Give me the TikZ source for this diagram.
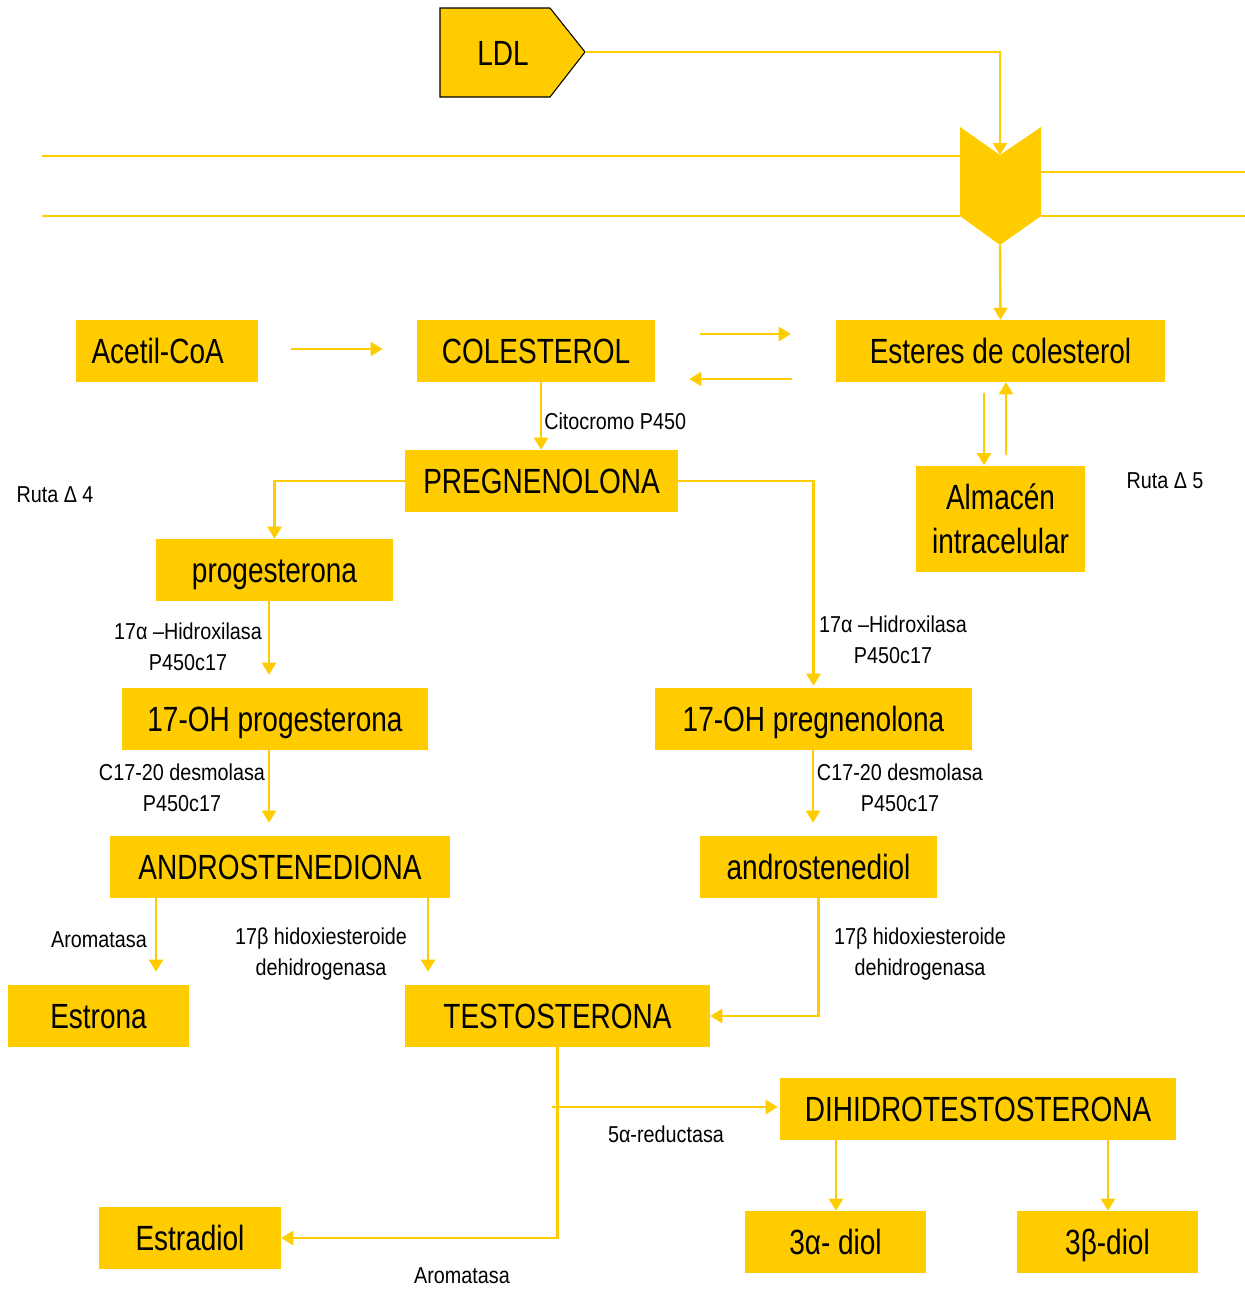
\documentclass[tikz,border=0pt]{standalone}
\usepackage{fontspec}
\setmainfont{Liberation Sans}[FakeStretch=0.8]
\newfontfamily\labfont{Liberation Sans}[FakeStretch=0.86]
\usetikzlibrary{arrows.meta}
\definecolor{boxy}{HTML}{FFCC00}
\tikzset{
  boxbase/.style={fill=boxy, inner sep=0pt, align=center, font=\fontsize{26.25}{33}\selectfont, text=black},
  box/.style={boxbase, text height=18.8pt, text depth=0pt},
  lab/.style={inner sep=0pt, align=center, font=\labfont\fontsize{17.25}{23.25}\selectfont, text=black},
  conn/.style={draw=boxy, line width=1.8pt},
  arr/.style={conn, -{Triangle[length=9pt,width=10.5pt]}},
  memb/.style={draw=boxy, line width=1.3pt},
}
\begin{document}
\begin{tikzpicture}[x=0.75pt,y=-0.75pt]
\useasboundingbox (0,0) rectangle (1245,1289);
% LDL pentagon
\filldraw[fill=boxy, draw=black, line width=0.8pt] (440,8) -- (550,8) -- (585,52) -- (550,97) -- (440,97) -- cycle;
\node[box, fill=none] (ldl) at (503,53) {LDL};
\coordinate (ldltip) at (585,52);
% membrane
\draw[memb] (42,156) -- (960,156);
\draw[memb] (42,216) -- (960,216);
\draw[memb] (1041,172) -- (1245,172);
\draw[memb] (1041,216) -- (1245,216);
\fill[boxy] (960,127) -- (1000,155) -- (1041,127) -- (1041,216) -- (1000,245) -- (960,216) -- cycle;
\coordinate (chevtop) at (1000,155);
\coordinate (chevbot) at (1000,245);
% boxes
\node[box, minimum width=182*0.75pt, minimum height=62*0.75pt] (acetil) at (167,351) {Acetil-CoA\hspace*{14pt}};
\node[box, minimum width=238*0.75pt, minimum height=62*0.75pt] (col) at (536,351) {COLESTEROL};
\node[box, minimum width=329*0.75pt, minimum height=62*0.75pt] (est) at (1000.5,351) {Esteres de colesterol};
\node[box, minimum width=273*0.75pt, minimum height=62*0.75pt] (preg) at (541.5,481) {PREGNENOLONA};
\node[boxbase, minimum width=169*0.75pt, minimum height=106*0.75pt] (alm) at (1000.5,518.5) {Almacén\\intracelular};
\node[box, minimum width=237*0.75pt, minimum height=62*0.75pt] (prog) at (274.5,570) {progesterona};
\node[box, minimum width=306*0.75pt, minimum height=62*0.75pt] (ohprog) at (275,719) {17-OH progesterona};
\node[box, minimum width=340*0.75pt, minimum height=62*0.75pt] (andro) at (280,867) {ANDROSTENEDIONA};
\node[box, minimum width=181*0.75pt, minimum height=62*0.75pt] (estrona) at (98.5,1016) {Estrona};
\node[box, minimum width=305*0.75pt, minimum height=62*0.75pt] (testo) at (557.5,1016) {TESTOSTERONA};
\node[box, minimum width=317*0.75pt, minimum height=62*0.75pt] (ohpreg) at (813.5,719) {17-OH pregnenolona};
\node[box, minimum width=237*0.75pt, minimum height=62*0.75pt] (adiol) at (818.5,867) {androstenediol};
\node[box, minimum width=396*0.75pt, minimum height=62*0.75pt] (dht) at (978,1109) {DIHIDROTESTOSTERONA};
\node[box, minimum width=181*0.75pt, minimum height=62*0.75pt] (ad3) at (835.5,1242) {3α- diol};
\node[box, minimum width=181*0.75pt, minimum height=62*0.75pt] (bd3) at (1107.5,1242) {3β-diol};
\node[box, minimum width=182*0.75pt, minimum height=62*0.75pt] (estradiol) at (190,1238) {Estradiol};
% labels
\node[lab, anchor=west] (lcito) at (544,421) {Citocromo P450};
\node[lab] (r4) at (55,495) {Ruta Δ 4};
\node[lab] (r5) at (1165,481) {Ruta Δ 5};
\node[lab] (lhid1) at (188,647) {17α –Hidroxilasa\\P450c17};
\node[lab] (ldes1) at (182,788) {C17-20 desmolasa\\P450c17};
\node[lab] (laro1) at (99,940) {Aromatasa};
\node[lab] (lhsd1) at (321,954) {17β hidoxiesteroide\\dehidrogenasa};
\node[lab] (lhid2) at (893,640) {17α –Hidroxilasa\\P450c17};
\node[lab] (ldes2) at (900,788) {C17-20 desmolasa\\P450c17};
\node[lab] (lhsd2) at (920,954) {17β hidoxiesteroide\\dehidrogenasa};
\node[lab] (lred) at (666,1134) {5α-reductasa};
\node[lab] (laro2) at (462,1276) {Aromatasa};
% connectors
\draw[arr] (ldltip) -| (chevtop);
\draw[arr] (chevbot) -- (est.north);
\draw[arr, shorten <=33*0.75pt, shorten >=34*0.75pt] (acetil.east |- 0,349) -- (col.west |- 0,349);
\draw[arr, shorten <=45*0.75pt, shorten >=45*0.75pt] (col.east |- 0,334) -- (est.west |- 0,334);
\draw[arr, shorten <=44*0.75pt, shorten >=34*0.75pt] (est.west |- 0,379) -- (col.east |- 0,379);
\draw[arr] (col.south -| 541,0) -- (preg.north -| 541,0);
\draw[arr, shorten <=11*0.75pt] (est.south -| 984,0) -- (alm.north -| 984,0);
\draw[arr, shorten <=10*0.75pt] (alm.north -| 1006,0) -- (est.south -| 1006,0);
\draw[arr] (preg.west) -| (prog.north);
\draw[arr, shorten >=13*0.75pt] (prog.south -| 269,0) -- (ohprog.north -| 269,0);
\draw[arr, shorten >=13*0.75pt] (ohprog.south -| 269,0) -- (andro.north -| 269,0);
\draw[arr, shorten >=13*0.75pt] (andro.south -| 156,0) -- (estrona.north -| 156,0);
\draw[arr, shorten >=13*0.75pt] (andro.south -| 428,0) -- (testo.north -| 428,0);
\draw[arr, shorten >=2*0.75pt] (preg.east) -| (ohpreg.north);
\draw[arr, shorten >=13*0.75pt] (ohpreg.south -| 813,0) -- (adiol.north -| 813,0);
\draw[arr] (adiol.south) |- (testo.east);
\draw[arr] (testo.south) |- (estradiol.east);
\coordinate (rstart) at (552,1107);
\draw[arr, shorten >=2*0.75pt] (rstart) -- (dht.west |- rstart);
\draw[arr] (dht.south -| 836,0) -- (ad3.north -| 836,0);
\draw[arr] (dht.south -| 1108,0) -- (bd3.north -| 1108,0);
\end{tikzpicture}
\end{document}
